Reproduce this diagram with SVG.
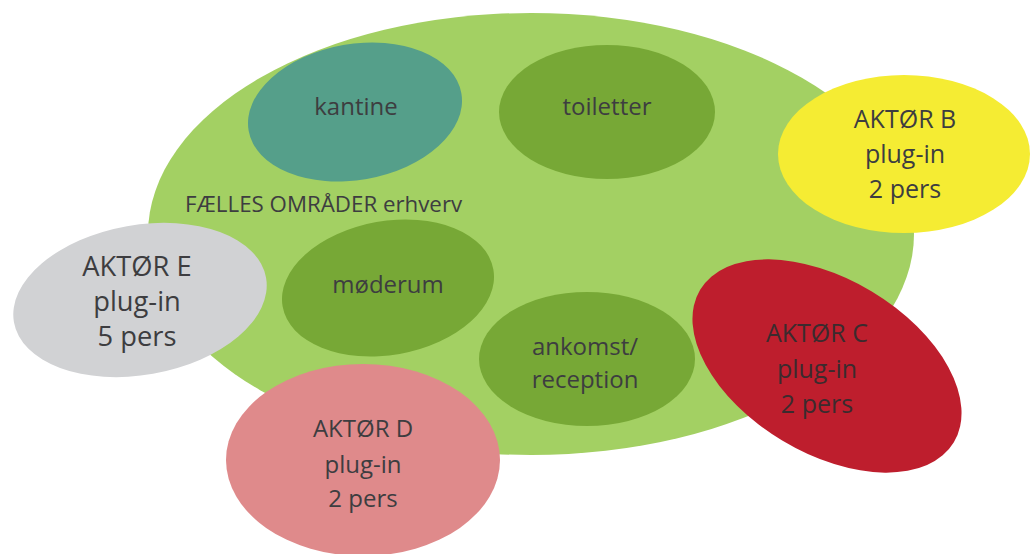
<svg xmlns="http://www.w3.org/2000/svg" width="1035" height="554" viewBox="0 0 1035 554">
<style>
text{font-family:"Open Sans","Noto Sans","Liberation Sans",sans-serif;fill:#3d3d40;text-anchor:middle}
.s{font-size:24px}
.a{font-size:25px}
</style>
<rect width="1035" height="554" fill="#ffffff"/>
<g id="faelles">
<ellipse cx="531" cy="234" rx="383" ry="221" fill="#a3d063"/>
<text x="185" y="212" style="font-size:22.3px;text-anchor:start">FÆLLES OMRÅDER erhverv</text>
</g>
<g id="kantine">
<ellipse cx="355" cy="112" rx="108" ry="68" transform="rotate(-10 355 112)" fill="#559f8a"/>
<text class="s" x="356" y="115">kantine</text>
</g>
<g id="toiletter">
<ellipse cx="607" cy="112" rx="108" ry="67" fill="#77a836"/>
<text class="s" x="607" y="115">toiletter</text>
</g>
<g id="moederum">
<ellipse cx="388" cy="288" rx="107" ry="67" transform="rotate(-10 388 288)" fill="#77a836"/>
<text class="s" x="388" y="293">møderum</text>
</g>
<g id="ankomst">
<ellipse cx="587" cy="359" rx="108" ry="67" fill="#77a836"/>
<text class="s" x="585" y="355">ankomst/</text>
<text class="s" x="585" y="388">reception</text>
</g>
<g id="aktoer-b">
<ellipse cx="904" cy="154" rx="126" ry="79" fill="#f5ec33"/>
<text class="a" x="905" y="128">AKTØR B</text>
<text class="a" x="905" y="163">plug-in</text>
<text class="a" x="905" y="198">2 pers</text>
</g>
<g id="aktoer-e">
<ellipse cx="140" cy="300" rx="128" ry="75" transform="rotate(-10 140 300)" fill="#d1d2d4"/>
<text x="137" y="276" style="font-size:27.3px">AKTØR E</text>
<text x="137" y="311" style="font-size:27.3px">plug-in</text>
<text x="137" y="346" style="font-size:27.3px">5 pers</text>
</g>
<g id="aktoer-d">
<ellipse cx="363" cy="460" rx="137" ry="96" fill="#df8a8b"/>
<text x="363" y="437" style="font-size:24px">AKTØR D</text>
<text x="363" y="473" style="font-size:24px">plug-in</text>
<text x="363" y="507" style="font-size:24px">2 pers</text>
</g>
<g id="aktoer-c">
<ellipse cx="827" cy="366" rx="148" ry="87" transform="rotate(31 827 366)" fill="#be1e2d"/>
<text class="a" x="817" y="342" style="fill:#3b2b2e">AKTØR C</text>
<text class="a" x="817" y="378" style="fill:#3b2b2e">plug-in</text>
<text class="a" x="817" y="413" style="fill:#3b2b2e">2 pers</text>
</g>
<g id="connectors"></g>
</svg>
